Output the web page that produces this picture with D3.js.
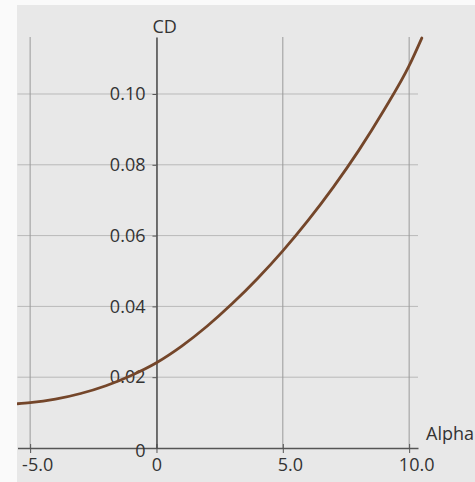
<!DOCTYPE html>
<html>
<head>
<meta charset="utf-8">
<script src="https://cdn.jsdelivr.net/npm/d3@7"></script>
<style>
  body { margin: 0; background: #fafafa; }
  svg { display: block; }
  .tick text { font-family: "Open Sans", "Noto Sans", sans-serif; font-size: 18px; fill: #333; }
</style>
</head>
<body>
<div id="visualization"></div>
<script>
// polar data
var alpha = [-5.5, -5, -4, -3, -2, -1, 0, 1, 2, 3, 4, 5, 6, 7, 8, 9, 10, 10.5];
var cd = [0.0125, 0.0128, 0.0138, 0.0154, 0.0176, 0.0205, 0.0241, 0.0288, 0.0344, 0.0408,
          0.0479, 0.0557, 0.0643, 0.0737, 0.0840, 0.0954, 0.1080, 0.1158];
var xTicks = [-5, 0, 5, 10];
var yTicks = [0, 0.02, 0.04, 0.06, 0.08, 0.10];

var W = 475, H = 482;
var panel = {left: 17, top: 5};

var x = d3.scaleLinear().domain([-5.5, 10.35]).range([17.5, 418]);
var y = d3.scaleLinear().domain([0, 0.1161]).range([448, 37]);

var svg = d3.select("#visualization").append("svg")
    .attr("width", W)
    .attr("height", H);

svg.append("rect")
    .attr("x", panel.left).attr("y", panel.top)
    .attr("width", W - panel.left).attr("height", H - panel.top)
    .attr("fill", "#e8e8e8");

svg.append("clipPath").attr("id", "clip")
  .append("rect")
    .attr("x", panel.left).attr("y", panel.top)
    .attr("width", W - panel.left).attr("height", H - panel.top);

var g = svg.append("g").attr("clip-path", "url(#clip)");

// grid
g.selectAll(".hgrid")
    .data(yTicks.filter(function(d){ return d !== 0; }))
    .enter().append("line")
    .attr("x1", x.range()[0]).attr("x2", x.range()[1])
    .attr("y1", function(d){ return y(d); })
    .attr("y2", function(d){ return y(d); })
    .attr("stroke", "#b9b9b9").attr("stroke-width", 1);

g.selectAll(".vgrid")
    .data(xTicks.filter(function(d){ return d !== 0; }))
    .enter().append("line")
    .attr("x1", function(d){ return x(d); })
    .attr("x2", function(d){ return x(d); })
    .attr("y1", y.range()[1]).attr("y2", y(0))
    .attr("stroke", "#9a9a9a").attr("stroke-width", 1);

// x axis
var xAxis = g.append("g")
    .attr("transform", "translate(0," + y(0) + ")")
    .call(d3.axisBottom(x)
        .tickValues(xTicks)
        .tickSizeInner(5)
        .tickSizeOuter(0)
        .tickPadding(5)
        .tickFormat(function(d){ return d === 0 ? "0" : d3.format(".1f")(d); }));
xAxis.select(".domain").attr("stroke", "#555").attr("stroke-width", 1.5);
xAxis.selectAll(".tick line").attr("y1", -4).attr("stroke", "#555");
xAxis.selectAll(".tick text")
    .attr("dx", function(d){ return d === 0 ? 0 : 7; })
    .text(function(d){ return d === 0 ? "0" : d3.format(".1f")(d).replace("\u2212", "-"); });

// y axis
var yAxis = g.append("g")
    .attr("transform", "translate(" + x(0) + ",0)")
    .call(d3.axisLeft(y)
        .tickValues(yTicks)
        .tickSizeInner(4)
        .tickSizeOuter(0)
        .tickPadding(7)
        .tickFormat(function(d){ return d === 0 ? "0" : d3.format(".2f")(d); }));
yAxis.select(".domain").attr("stroke", "#444").attr("stroke-width", 1.5);
yAxis.selectAll(".tick line").attr("stroke", "#555");
yAxis.selectAll(".tick text").attr("dy", function(d){ return d === 0 ? "0.45em" : "0.32em"; });

// axis titles
g.append("text")
    .attr("x", x(0) - 4).attr("y", 33)
    .attr("font-family", "Open Sans, Noto Sans, sans-serif")
    .attr("font-size", 18).attr("fill", "#333")
    .text("CD");

g.append("text")
    .attr("x", 426).attr("y", 440)
    .attr("font-family", "Open Sans, Noto Sans, sans-serif")
    .attr("font-size", 18).attr("fill", "#333")
    .text("Alpha");

// curve
var data = alpha.map(function(a, i){ return {a: a, cd: cd[i]}; });
var line = d3.line()
    .x(function(d){ return x(d.a); })
    .y(function(d){ return y(d.cd); })
    .curve(d3.curveMonotoneX);

g.append("path")
    .datum(data)
    .attr("fill", "none")
    .attr("stroke", "#74462a")
    .attr("stroke-width", 2.8)
    .attr("stroke-linecap", "round")
    .attr("d", line);
</script>
</body>
</html>
